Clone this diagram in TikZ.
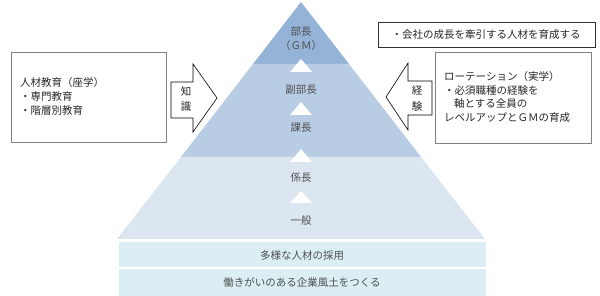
\documentclass[tikz,border=0pt]{standalone}
\usepackage{fontspec}
\setmainfont{Noto Sans CJK JP}
\definecolor{lvtop}{RGB}{149,179,215}
\definecolor{lvmid}{RGB}{184,204,228}
\definecolor{lvbot}{RGB}{220,230,241}
\definecolor{band}{RGB}{218,238,243}
\definecolor{pytext}{RGB}{80,80,80}
\begin{document}
\begin{tikzpicture}[x=1pt,y=-1pt,
  txt/.style={font=\fontsize{10.5}{13}\selectfont, inner sep=0pt, text=black!85},
  pyr/.style={font=\fontsize{10.5}{13}\selectfont, inner sep=0pt, text=pytext},
  infobox/.style={draw=black!50, line width=0.8pt},
  blockarrow/.style={draw=black, line width=0.6pt, fill=white},
  uptri/.style={fill=white, draw=none}]
\useasboundingbox (0,0) rectangle (600,296);
% pyramid layers
\fill[lvtop] (301,2) -- (349,64) -- (253,64) -- cycle;
\fill[lvmid] (253,64) -- (349,64) -- (421,157) -- (181,157) -- cycle;
\fill[lvbot] (181,157) -- (421,157) -- (485,239) -- (117,239) -- cycle;
% bands
\fill[band] (119,242) rectangle (486,267);
\fill[band] (119,269) rectangle (486,296);
% white step triangles
\fill[uptri] (301,59) -- (312,72) -- (290,72) -- cycle;
\fill[uptri] (301,102) -- (312,115) -- (290,115) -- cycle;
\fill[uptri] (301,149) -- (312,162) -- (290,162) -- cycle;
\fill[uptri] (301,191) -- (312,203) -- (290,203) -- cycle;
% pyramid labels
\node[pyr] (bucho) at (301,32) {部長};
\node[pyr] (gm) at (301,46) {（ＧＭ）};
\node[pyr] (fuku) at (301,90) {副部長};
\node[pyr] (kacho) at (301,128) {課長};
\node[pyr] (kakari) at (301,178) {係長};
\node[pyr] (ippan) at (301,221) {一般};
\node[pyr] (tayo) at (302,256) {多様な人材の採用};
\node[pyr] (hataraki) at (302,283) {働きがいのある企業風土をつくる};
% left box
\draw[infobox] (11,52) rectangle (166,142);
\node[txt, anchor=west] (l1) at (20,83) {人材教育（座学）};
\node[txt, anchor=west] (l2) at (20,97) {・専門教育};
\node[txt, anchor=west] (l3) at (20,111) {・階層別教育};
% right box
\draw[infobox] (435,52) rectangle (591,143);
\node[txt, anchor=west] (r1) at (444,77) {ローテーション（実学）};
\node[txt, anchor=west] (r2) at (444,91) {・必須職種の経験を};
\node[txt, anchor=west] (r3) at (454,104) {軸とする全員の};
\node[txt, anchor=west] (r4) at (444,118) {レベルアップとＧＭの育成};
% top box
\draw[draw=black!80, line width=0.8pt] (378,22) rectangle (595,47);
\node[txt] (goal) at (486,34.5) {・会社の成長を牽引する人材を育成する};
% left block arrow
\draw[blockarrow] (171,82) -- (193,82) -- (193,64) -- (217,98) -- (193,132) -- (193,118) -- (171,118) -- cycle;
\node[txt] (chi) at (186,91) {知};
\node[txt] (shiki) at (186,107) {識};
% right block arrow
\draw[blockarrow] (432,81) -- (408,81) -- (408,63) -- (386,97) -- (408,130) -- (408,115) -- (432,115) -- cycle;
\node[txt] (kei) at (417,91) {経};
\node[txt] (ken) at (417,107) {験};
\end{tikzpicture}
\end{document}
